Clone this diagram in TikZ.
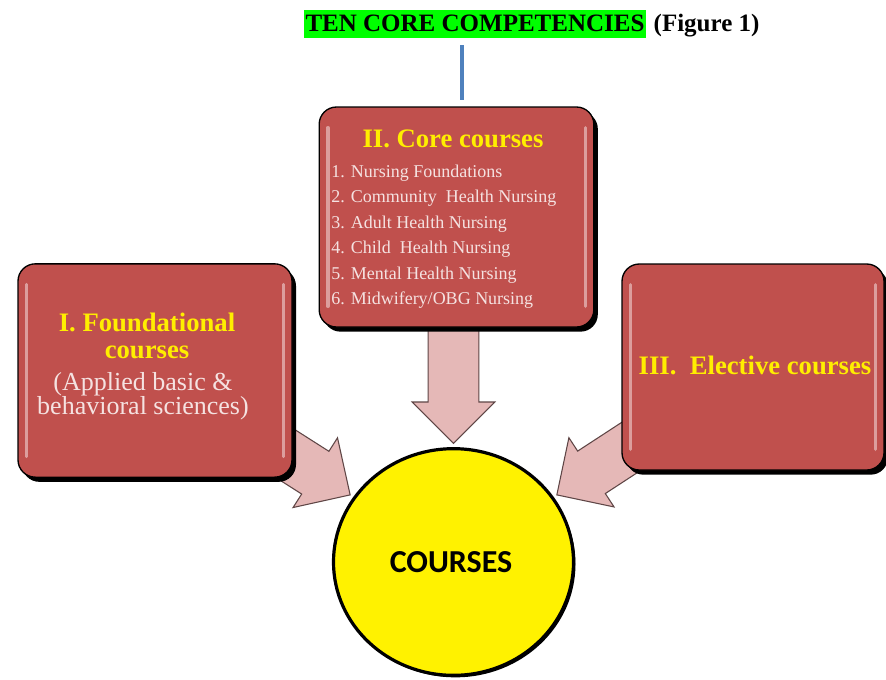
\documentclass[tikz,border=0pt]{standalone}
\usepackage{fontspec}
\setmainfont{Liberation Serif}
\newfontfamily\calibri{Carlito}
\usetikzlibrary{calc,shapes.geometric,shadows,backgrounds}

\definecolor{boxred}{RGB}{192,80,77}
\definecolor{headyellow}{RGB}{255,238,0}
\definecolor{listpink}{RGB}{245,226,225}
\definecolor{arrowpink}{RGB}{229,184,183}
\definecolor{arrowedge}{RGB}{95,70,70}
\definecolor{stemblue}{RGB}{79,129,189}
\definecolor{markgreen}{RGB}{0,255,0}

% block arrow from #1 (tail) to #2 (tip)
\newcommand{\shafthw}{19pt}
\newcommand{\headhw}{31pt}
\newcommand{\headlen}{31pt}
\newcommand{\blockarrow}[2]{%
  \coordinate (neck) at ($(#2)!\headlen!(#1)$);
  \draw[bigarrow] ($(#1)!\shafthw!90:(#2)$) -- ($(neck)!\shafthw!90:(#2)$)
    -- ($(neck)!\headhw!90:(#2)$) -- (#2) -- ($(neck)!\headhw!-90:(#2)$)
    -- ($(neck)!\shafthw!-90:(#2)$) -- ($(#1)!\shafthw!-90:(#2)$) -- cycle;}

\tikzset{
  coursebox/.style={rounded corners=13pt, fill=boxred, draw=black, line width=1pt,
    drop shadow={shadow xshift=3pt, shadow yshift=-3.5pt, opacity=1, fill=black}},
  gloss/.style={draw=white, opacity=0.45, line width=2.5pt, line cap=round},
  headtext/.style={text=headyellow, font=\bfseries\fontsize{20}{20.25}\selectfont,
    inner sep=0pt, align=center},
  subtext/.style={text=listpink, font=\fontsize{19.5}{18}\selectfont, inner sep=0pt,
    align=center},
  listtext/.style={text=listpink, font=\fontsize{13.5}{16}\selectfont, inner sep=0pt},
  bigarrow/.style={fill=arrowpink, draw=arrowedge, line width=0.8pt, line join=miter},
  hub/.style={ellipse, fill=yellow, draw=black, line width=2.4pt, minimum width=180pt,
    minimum height=170pt, outer sep=4pt,
    drop shadow={shadow xshift=1.5pt, shadow yshift=-1.5pt, opacity=1, fill=black}},
  stemline/.style={draw=stemblue, line width=3.5pt},
}

\begin{document}
\begin{tikzpicture}[x=0.75pt, y=-0.75pt]
  \path[use as bounding box] (0,0) rectangle (886,679);

  % title
  \node[fill=markgreen, inner xsep=1.5pt, inner ysep=0pt, text height=16pt, text depth=4.5pt,
    font=\bfseries\fontsize{18.75}{20}\selectfont] (title) at (475,24) {TEN CORE COMPETENCIES};
  \node[anchor=base west, inner sep=0pt, font=\bfseries\fontsize{18.75}{20}\selectfont]
    (fig) at ([xshift=5pt]title.base east) {(Figure 1)};

  % boxes
  \node[coursebox, minimum width=206pt, minimum height=165pt] (core) at (456.5,217) {};
  \node[coursebox, minimum width=205.5pt, minimum height=160pt] (found) at (155,370.5) {};
  \node[coursebox, minimum width=196.5pt, minimum height=154.5pt] (elect) at (753,367) {};

  \foreach \b in {core,found,elect} {
    \draw[gloss] ([xshift=7pt,yshift=-16pt]\b.north west) -- ([xshift=7pt,yshift=16pt]\b.south west);
    \draw[gloss] ([xshift=-7pt,yshift=-16pt]\b.north east) -- ([xshift=-7pt,yshift=16pt]\b.south east);
  }

  \node[hub] (courses) at (453.5,562) {};
  \node[font=\calibri\bfseries\fontsize{24}{26}\selectfont, inner sep=0pt] (coursestext)
    at (451,562.5) {COURSES};

  % stem from the title
  \coordinate (stem) at (462,45);
  \draw[stemline, shorten >=5pt] (stem) -- (stem |- core.north);

  % box texts
  \node[headtext] (coretitle) at (453,139) {II. Core courses};
  \foreach \txt [count=\i] in {Nursing Foundations, Community\ \ Health Nursing,
      Adult Health Nursing, Child\ \ Health Nursing, Mental Health Nursing,
      Midwifery/OBG Nursing}
    \node[listtext, anchor=base west] (item\i) at (331,151.5+25.5*\i) {\i. \txt};

  \node[headtext] (foundtitle) at (147,335.5) {I. Foundational\\courses};
  \node[subtext] (foundsub) at (143,396) {(Applied basic \&\\behavioral sciences)};

  \node[headtext] (electtitle) at (755,365) {III.\ \ Elective courses};

  % arrows into the circle
  \begin{scope}[on background layer]
    \fill[white] (0,0) rectangle (886,679);
    \coordinate (coretail) at (core.center -| courses.north);
    \blockarrow{coretail}{courses.north}
    \blockarrow{found}{courses.147}
    \blockarrow{elect}{courses.33}
  \end{scope}
\end{tikzpicture}
\end{document}
